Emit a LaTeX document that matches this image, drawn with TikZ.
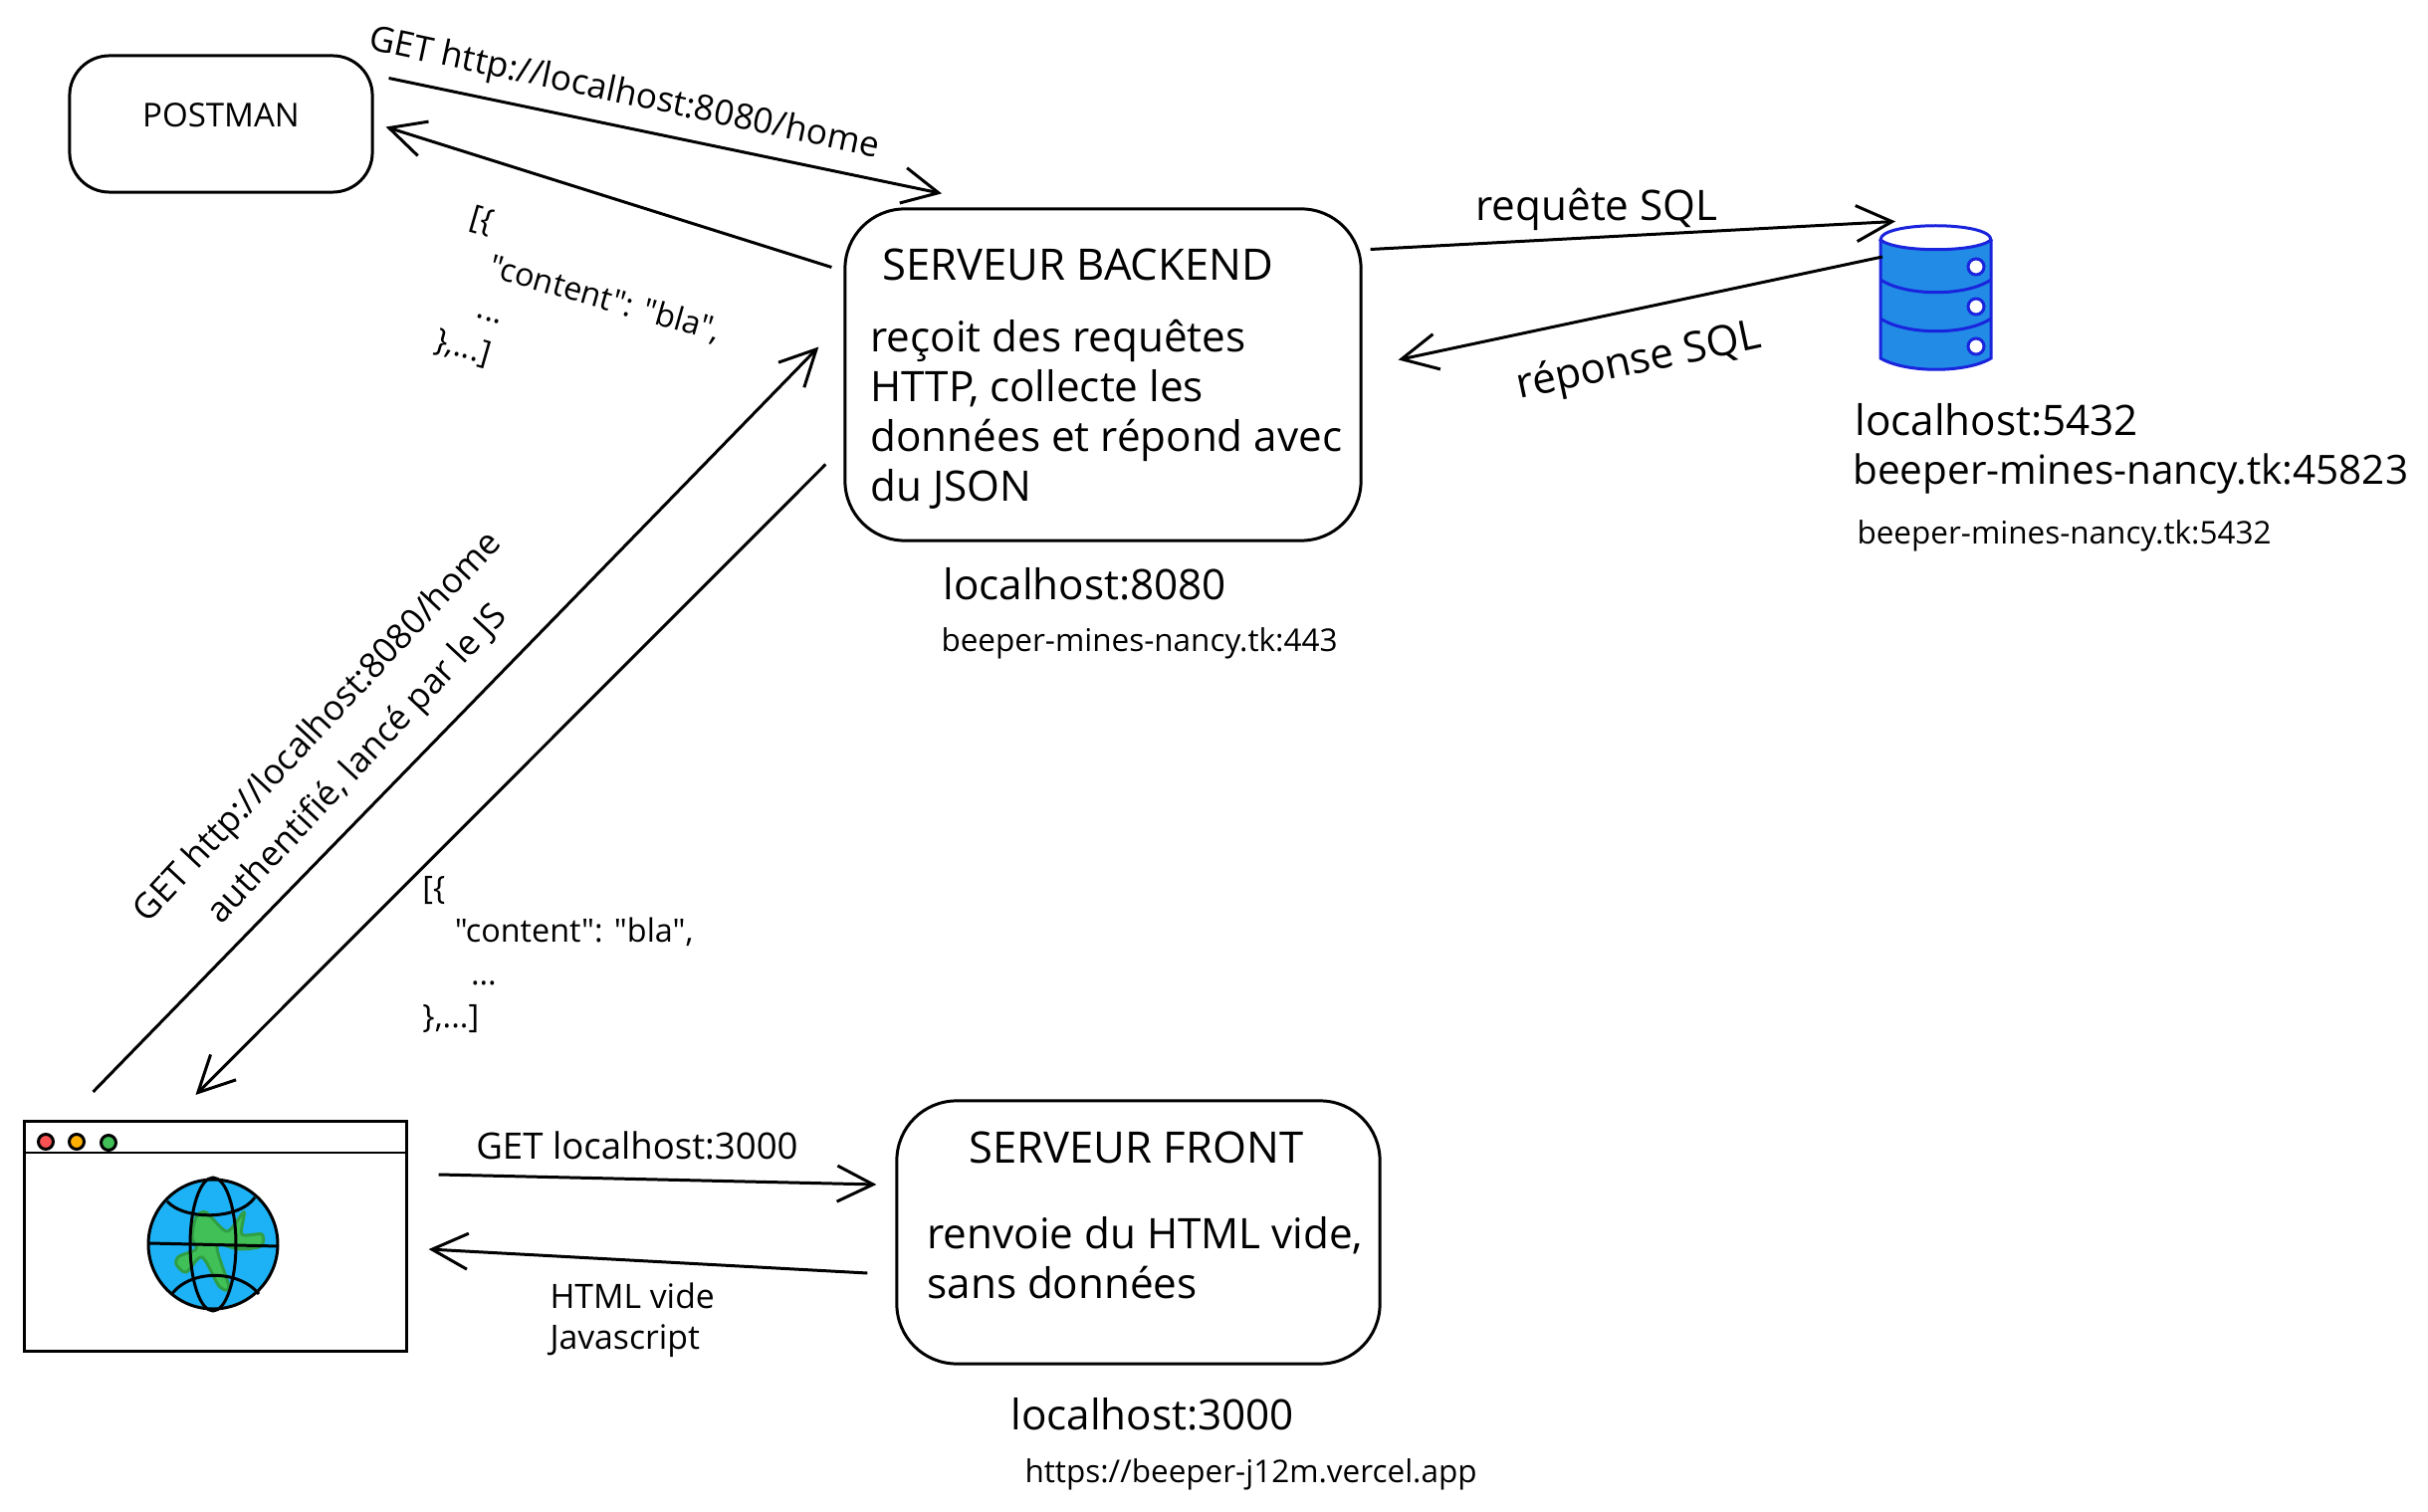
\documentclass[tikz,border=0pt]{standalone}
\usepackage{fontspec}
\setmainfont[Ligatures=TeXOff]{Open Sans}
\usetikzlibrary{arrows.meta}
\definecolor{sqlblue}{HTML}{228BE6}
\definecolor{sqlstroke}{HTML}{1A24DC}
\definecolor{ocean}{HTML}{1CB2F5}
\definecolor{land}{HTML}{40C057}
\definecolor{landedge}{HTML}{2F9E44}
\definecolor{dotred}{HTML}{FA5252}
\definecolor{dotorange}{HTML}{FFB000}
\begin{document}
\begin{tikzpicture}[x=0.01cm,y=-0.01cm,line width=0.85pt,>={Straight Barb[length=3.6mm,width=3.6mm]}]
    %
    % `server' is used for the rounded boxes.
    % `ghost' holds the place of an icon for the arrows.
    % `hole' is used for the dots on the database.
    % `light' is used for the dots on the browser.
    \tikzstyle{server} = [draw,rounded corners=6mm,inner sep=0pt]
    \tikzstyle{ghost} = [inner sep=0pt]
    \tikzstyle{light} = [draw,shape=circle,minimum size=1.5mm,inner sep=0pt]
    \tikzstyle{hole} = [draw=sqlstroke,fill=white,shape=circle,minimum size=1.6mm,inner sep=0pt]
    \tikzstyle{big} = [font={\fontsize{12}{14.2}\selectfont},align=left,inner sep=0pt]
    \tikzstyle{title} = [font={\fontsize{12.4}{14.2}\selectfont},align=left,inner sep=0pt]
    \tikzstyle{mid} = [font={\fontsize{10}{12.5}\selectfont},align=left,inner sep=0pt]
    \tikzstyle{json} = [font={\fontsize{9.2}{12.2}\selectfont},align=left,inner sep=0pt]
    \tikzstyle{small} = [font={\fontsize{8.95}{9}\selectfont},align=left,inner sep=0pt]
    %
    \useasboundingbox (0,0) rectangle (2439,1519);
    %
    % Boxes
    \node[server,rounded corners=4mm,minimum width=3.04cm,minimum height=1.37cm] (postman) at (222,124.5) {};
    \node[server,minimum width=5.18cm,minimum height=3.33cm] (backend) at (1108,376.5) {};
    \node[server,minimum width=4.85cm,minimum height=2.64cm] (front) at (1143.5,1238) {};
    \node[draw,minimum width=3.83cm,minimum height=2.31cm,inner sep=0pt] (browser) at (216.5,1242) {};
    \node[ghost,minimum width=1.11cm,minimum height=1.42cm] (db) at (1944,299) {};
    %
    % Text of the boxes
    \node[mid,font={\fontsize{9.4}{12}\selectfont},anchor=center] (postmantext) at (222,116) {POSTMAN};
    \node[title,anchor=west] (backendtitle) at (885,266) {SERVEUR BACKEND};
    \node[big,anchor=west] (backendtext) at (873,416) {reçoit des requêtes\\HTTP, collecte les\\données et répond avec\\du JSON};
    \node[title,anchor=west] (fronttitle) at (972,1153) {SERVEUR FRONT};
    \node[big,anchor=west] (fronttext) at (930,1264) {renvoie du HTML vide,\\sans données};
    %
    % Addresses
    \node[big,anchor=west] (backendlocal) at (946,587) {localhost:8080};
    \node[small,anchor=west] (backendprod) at (944,646) {beeper-mines-nancy.tk:443};
    \node[big,anchor=west] (dblocal) at (1862,422) {localhost:5432};
    \node[big,font={\fontsize{11.5}{14}\selectfont},anchor=west] (dbremote) at (1860,476) {beeper-mines-nancy.tk:45823};
    \node[small,anchor=west] (dbprod) at (1864,538) {beeper-mines-nancy.tk:5432};
    \node[big,anchor=west] (frontlocal) at (1014,1421) {localhost:3000};
    \node[small,anchor=west] (frontprod) at (1028,1481) {https://beeper-j12m.vercel.app};
    %
    % Database
    \fill[sqlblue] (1889,241) -- (1889,360) .. controls (1915,375) and (1975,375) .. (2000,360) -- (2000,241) -- cycle;
    \draw[sqlstroke] (1889,241) -- (1889,360) .. controls (1915,375) and (1975,375) .. (2000,360) -- (2000,241);
    \draw[sqlstroke,fill=white] (1889,241) .. controls (1889,222) and (2000,222) .. (2000,241) .. controls (1985,254) and (1905,254) .. cycle;
    \draw[sqlstroke] (1889,281) .. controls (1915,298) and (1975,298) .. (2000,281);
    \draw[sqlstroke] (1889,320) .. controls (1915,337) and (1975,337) .. (2000,320);
    \node[hole] (hole1) at (1985,268) {};
    \node[hole] (hole2) at (1985,308) {};
    \node[hole] (hole3) at (1985,348) {};
    %
    % Browser
    \draw (25,1158) -- (408,1158);
    \node[light,fill=dotred] (light1) at (46,1147) {};
    \node[light,fill=dotorange] (light2) at (77,1147) {};
    \node[light,fill=land] (light3) at (109,1148) {};
    \fill[ocean] (214,1250) circle (65);
    \draw[landedge,fill=land] plot[smooth cycle,tension=0.5] coordinates {(197,1223) (207,1218) (228,1237) (245,1218) (243,1240) (263,1240) (262,1252) (240,1255) (218,1252) (230,1293) (220,1292) (203,1263) (187,1278) (177,1270) (180,1262) (197,1255) (193,1243)};
    \draw (214,1250) circle (65);
    \draw (214,1250) ellipse (23 and 67);
    \draw (150,1249) -- (280,1252);
    \draw (168,1207) .. controls (185,1226) and (240,1226) .. (256,1203);
    \draw (172,1301) .. controls (190,1275) and (240,1275) .. (260,1300);
    %
    % Arrows
    \draw[->] ([shift={(15,-46)}]postman.east) -- ([shift={(-162,-14)}]backend.north);
    \draw[->] ([shift={(-12,-108)}]backend.west) -- ([shift={(12,3)}]postman.east);
    \draw[->] ([shift={(8,-126)}]backend.east) -- ([shift={(-40,-4)}]db.north);
    \draw[->] ([shift={(4,-41)}]db.west) -- ([shift={(36,-15)}]backend.east);
    \draw[->] ([shift={(-123,-28)}]browser.north) -- ([shift={(-25,-28)}]backend.west);
    \draw[->] ([shift={(-18,90)}]backend.west) -- ([shift={(-20,-25)}]browser.north);
    \draw[->] ([shift={(31,-62)}]browser.east) -- ([shift={(-19,-48)}]front.west);
    \draw[->] ([shift={(-28,41)}]front.west) -- ([shift={(21,13)}]browser.east);
    %
    % Labels of the arrows
    \node[mid,rotate=-12,anchor=center] (getpostman) at (627,95) {GET http://localhost:8080/home};
    \node[json,rotate=-16,anchor=center] (jsonpostman) at (586,318) {[\{\\\hspace*{1em}"content": "bla",\\\hspace*{1em}...\\\},...]};
    \node[big,anchor=center] (sqlask) at (1604,210) {requête SQL};
    \node[big,rotate=12,anchor=center] (sqlreply) at (1646,364) {réponse SQL};
    \node[mid,rotate=47,align=center,anchor=center] (getbrowser) at (340,750) {GET http://localhost:8080/home\\[3pt]authentifié, lancé par le JS};
    \node[json,anchor=west] (jsonbrowser) at (423,959) {[\{\\\hspace*{1em}"content": "bla",\\\hspace*{1.5em}...\\\},...]};
    \node[mid,font={\fontsize{10.4}{12.5}\selectfont},anchor=center] (getfront) at (640,1151) {GET localhost:3000};
    \node[mid,font={\fontsize{9.6}{11.6}\selectfont},anchor=west] (htmlfront) at (551,1326) {HTML vide\\Javascript};
\end{tikzpicture}
\end{document}
